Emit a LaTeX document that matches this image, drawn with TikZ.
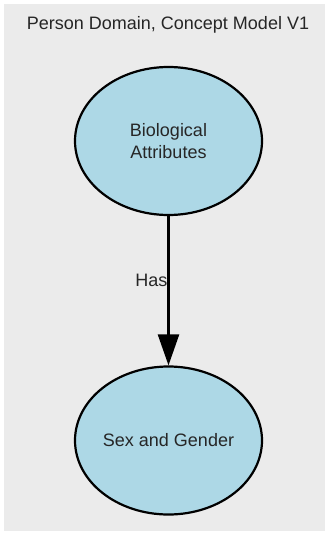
\documentclass[tikz,border=0pt]{standalone}
\usepackage{fontspec}
\setmainfont{Liberation Sans}
\usetikzlibrary{arrows.meta,positioning,shapes.geometric}
\definecolor{panelgray}{RGB}{235,235,235}
\definecolor{conceptblue}{RGB}{173,216,230}

\begin{document}
\begin{tikzpicture}[
  x=1pt,y=-1pt,
  concept/.style={ellipse,draw=black,line width=2.2pt,fill=conceptblue,
    minimum width=187pt,minimum height=148pt,inner sep=0pt,
    font=\fontsize{18}{22}\selectfont,align=center,text=black!85},
  relation/.style={draw=black,line width=2.4pt,-{Triangle[length=31pt,width=21pt]}},
  edgelabel/.style={font=\fontsize{18}{22}\selectfont,text=black!85},
  title/.style={font=\fontsize{18}{22}\selectfont,text=black!85},
]
\useasboundingbox (0,0) rectangle (329,535);
\fill[panelgray] (4,4) rectangle (325,531);
\node[title] (heading) at (168,25) {Person Domain, Concept Model V1};
\node[concept] (bio) at (168.5,141) {Biological\\Attributes};
\node[concept] (sexgender) at (168.5,440.5) {Sex and Gender};
\draw[relation] (bio) -- node[edgelabel,pos=0.43,anchor=east,inner sep=0pt] (has) {Has} (sexgender);
\end{tikzpicture}
\end{document}
